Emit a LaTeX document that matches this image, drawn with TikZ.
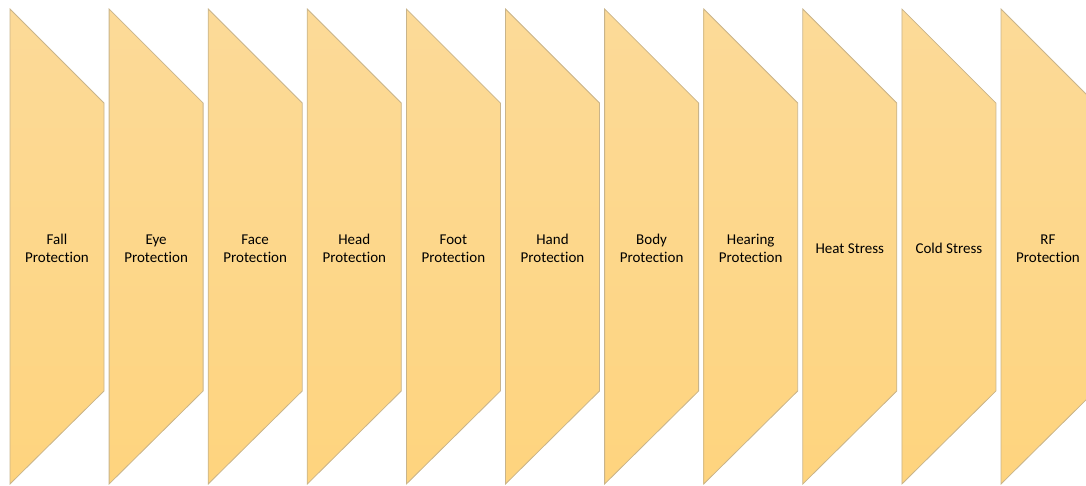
\documentclass[tikz,border=0pt]{standalone}
\usepackage{fontspec}
\setmainfont{Carlito}[Ligatures=NoCommon]
\begin{document}
\begin{tikzpicture}[x=1pt,y=-1pt,
  band/.style={draw=shapeedge,line width=0.8pt,top color=bandtop,bottom color=bandbot,line join=miter},
  lbl/.style={font=\fontsize{15}{18}\selectfont,align=center,text=black}]
\definecolor{bandtop}{HTML}{FCDA98}
\definecolor{bandbot}{HTML}{FED47E}
\definecolor{shapeedge}{HTML}{C9B48A}
\useasboundingbox (0,0) rectangle (1086,485);
\clip (0,0) rectangle (1086,485);
\foreach \i/\t in {0/{\strut Fall\\\strut Protection},1/{\strut Eye\\\strut Protection},2/{\strut Face\\\strut Protection},3/{\strut Head\\\strut Protection},4/{\strut Foot\\\strut Protection},5/{\strut Hand\\\strut Protection},6/{\strut Body\\\strut Protection},7/{\strut Hearing\\\strut Protection},8/{\strut Heat Stress},9/{\strut Cold Stress},10/{\strut RF\\\strut Protection}}{
  \pgfmathsetmacro{\x}{10+99.1*\i}
  \path[band] (\x,9) -- (\x+94,103) -- (\x+94,391) -- (\x,484) -- cycle;
  \node[lbl] (l\i) at (\x+47,250) {\t};
}
\end{tikzpicture}
\end{document}
